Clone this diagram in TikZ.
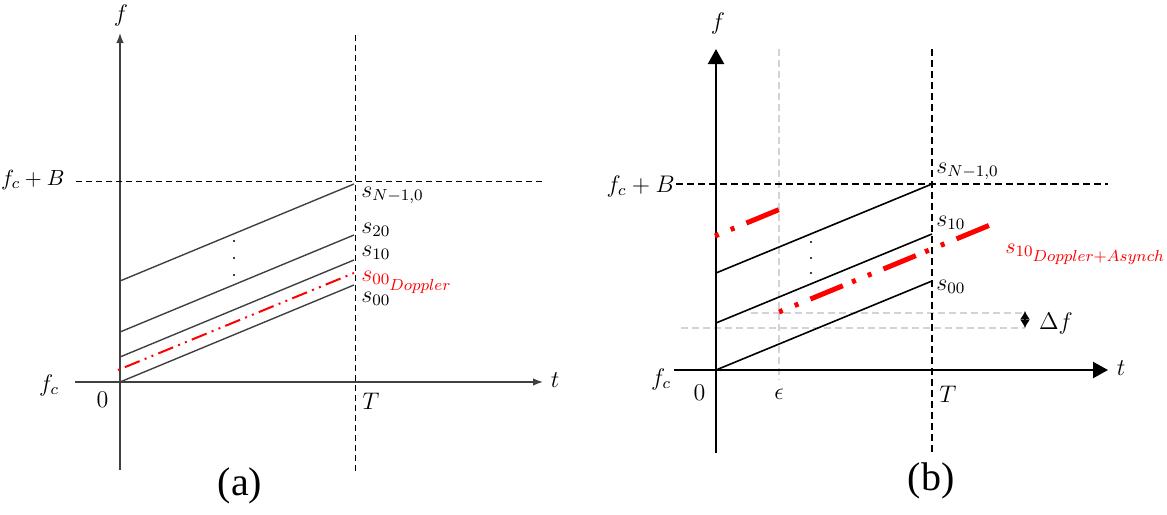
\documentclass[tikz,border=0pt]{standalone}
\usepackage{fontspec}
\setmainfont{Liberation Serif}
\usepackage{tikz}
\usetikzlibrary{arrows.meta, positioning, calc}
\definecolor{axisgray}{HTML}{404040}
\definecolor{gridgray}{HTML}{D2D2D8}
\tikzset{
    axisa/.style={draw=axisgray, line width=0.8pt, -{Latex[length=5pt,width=3.8pt]}},
    axisb/.style={draw=black, line width=1.1pt, -{Triangle[length=7.5pt,width=8pt]}},
    guidea/.style={draw=black, line width=0.5pt, dash pattern=on 3pt off 2pt}, % dashed guides in (a)
    guideb/.style={draw=black, line width=0.9pt, dash pattern=on 3.5pt off 2pt}, % dashed guides in (b)
    helper/.style={draw=gridgray, line width=0.6pt, dash pattern=on 3.5pt off 2pt},
    chirpa/.style={draw=axisgray, line width=0.7pt},
    chirpb/.style={draw=black, line width=0.8pt},
    dopa/.style={draw=red, line width=1pt, dash pattern=on 1pt off 2.7pt on 8pt off 2.7pt on 1pt off 2.7pt},
    dopb/.style={draw=red, line width=2.5pt, dash pattern=on 2pt off 6.5pt on 2pt off 6.5pt on 17.5pt off 5pt},
    lbl/.style={font=\fontsize{12}{14}\selectfont, inner sep=0pt},
    captext/.style={font=\rmfamily\fontsize{20}{24}\selectfont, inner sep=0pt}}
\begin{document}
\begin{tikzpicture}[x=0.5pt, y=-0.5pt]
    \useasboundingbox (0,0) rectangle (1167,514);

    % Panel (a): chirps with Doppler shift
    \coordinate (Oa) at (120,382);
    \coordinate (fbota) at (120,470);
    \coordinate (ftopa) at (120,33);
    \coordinate (tlefta) at (75,382);
    \coordinate (trighta) at (543,382);
    \coordinate (Ttopa) at (355,35);
    \coordinate (Tbota) at (355,473);
    \coordinate (Blefta) at (76,181);
    \coordinate (Brighta) at (545,181);
    \draw[axisa] (fbota) -- (ftopa);
    \draw[axisa] (tlefta) -- (trighta);
    \draw[guidea] (Ttopa) -- (Tbota);
    \draw[guidea] (Blefta) -- (Brighta);
    \foreach \y in {382, 357, 332, 281}
        \draw[chirpa] (120,\y) -- ++(234,-97);
    \draw[dopa] (118,370) -- (354,273);
    \foreach \y in {241, 258, 275}
        \fill (234,\y) circle (0.6pt);
    \node[lbl] (fa) at (121,15) {$f$};
    \node[lbl] (ta) at (555,380) {$t$};
    \node[lbl, font=\fontsize{11}{13}\selectfont, anchor=base east] (fcBa) at (65,185) {$f_c+B$};
    \node[lbl] (fca) at (49,385) {$f_c$};
    \node[lbl] (zeroa) at (102.5,400) {$0$};
    \node[lbl] (Ta) at (371,401) {$T$};
    \node[lbl, anchor=base west] (sNa) at (361,197) {$s_{N-1,0}$};
    \node[lbl, anchor=base west] (s20a) at (361,233) {$s_{20}$};
    \node[lbl, anchor=base west] (s10a) at (361,256) {$s_{10}$};
    \node[lbl, anchor=base west, text=red] (sDa) at (361,281) {$s_{00_{\scriptstyle Doppler}}$};
    \node[lbl, anchor=base west] (s00a) at (361,302) {$s_{00}$};
    \node[captext] (capa) at (240,486) {(a)};

    % Panel (b): chirps with Doppler shift and asynchrony
    \coordinate (Ob) at (716,370);
    \coordinate (fbotb) at (716,453);
    \coordinate (ftopb) at (716,49);
    \coordinate (tleftb) at (674,370);
    \coordinate (trightb) at (1108,370);
    \coordinate (Ttopb) at (932,49);
    \coordinate (Tbotb) at (932,454);
    \coordinate (etop) at (779,49);
    \coordinate (ebot) at (779,380);
    \coordinate (Bleftb) at (676,184);
    \coordinate (Brightb) at (1108,184);
    \coordinate (dfup) at (1025,311);
    \coordinate (dfdown) at (1025,328);
    \draw[helper] (etop) -- (ebot);
    \draw[helper] (751,313) -- (dfup |- 0,313);
    \draw[helper] (681,328) -- (dfdown);
    \draw[axisb] (fbotb) -- (ftopb);
    \draw[axisb] (tleftb) -- (trightb);
    \draw[guideb] (Ttopb) -- (Tbotb);
    \draw[guideb] (Bleftb) -- (Brightb);
    \foreach \y in {370, 323, 273}
        \draw[chirpb] (716,\y) -- ++(216,-89);
    \draw[dopb] (715,236) -- (779,209.6);
    \draw[dopb] (779,312) -- (995,223);
    \draw[line width=0.6pt, {Latex[length=4.2pt,width=5pt]}-{Latex[length=4.2pt,width=5pt]}] (dfup) -- (dfdown);
    \foreach \y in {242, 258, 273}
        \fill (811,\y) circle (0.6pt);
    \node[lbl] (fb) at (718,23) {$f$};
    \node[lbl] (tb) at (1121,368) {$t$};
    \node[lbl, anchor=base east] (fcBb) at (675,192) {$f_c+B$};
    \node[lbl] (fcb) at (661,379) {$f_c$};
    \node[lbl] (zerob) at (699.5,393) {$0$};
    \node[lbl] (eps) at (779,394) {$\epsilon$};
    \node[lbl] (Tb) at (948,394) {$T$};
    \node[lbl, anchor=base west] (sNb) at (936,173) {$s_{N-1,0}$};
    \node[lbl, anchor=base west] (s10b) at (936,226) {$s_{10}$};
    \node[lbl, anchor=base west] (s00b) at (936,290) {$s_{00}$};
    \node[lbl, font=\fontsize{11}{13}\selectfont, anchor=base west, text=red] (sDb) at (1005,253) {$s_{10_{\scriptstyle Doppler+Asynch}}$};
    \node[lbl] (df) at (1056,323) {$\Delta f$};
    \node[captext] (capb) at (931,481) {(b)};
\end{tikzpicture}
\end{document}
